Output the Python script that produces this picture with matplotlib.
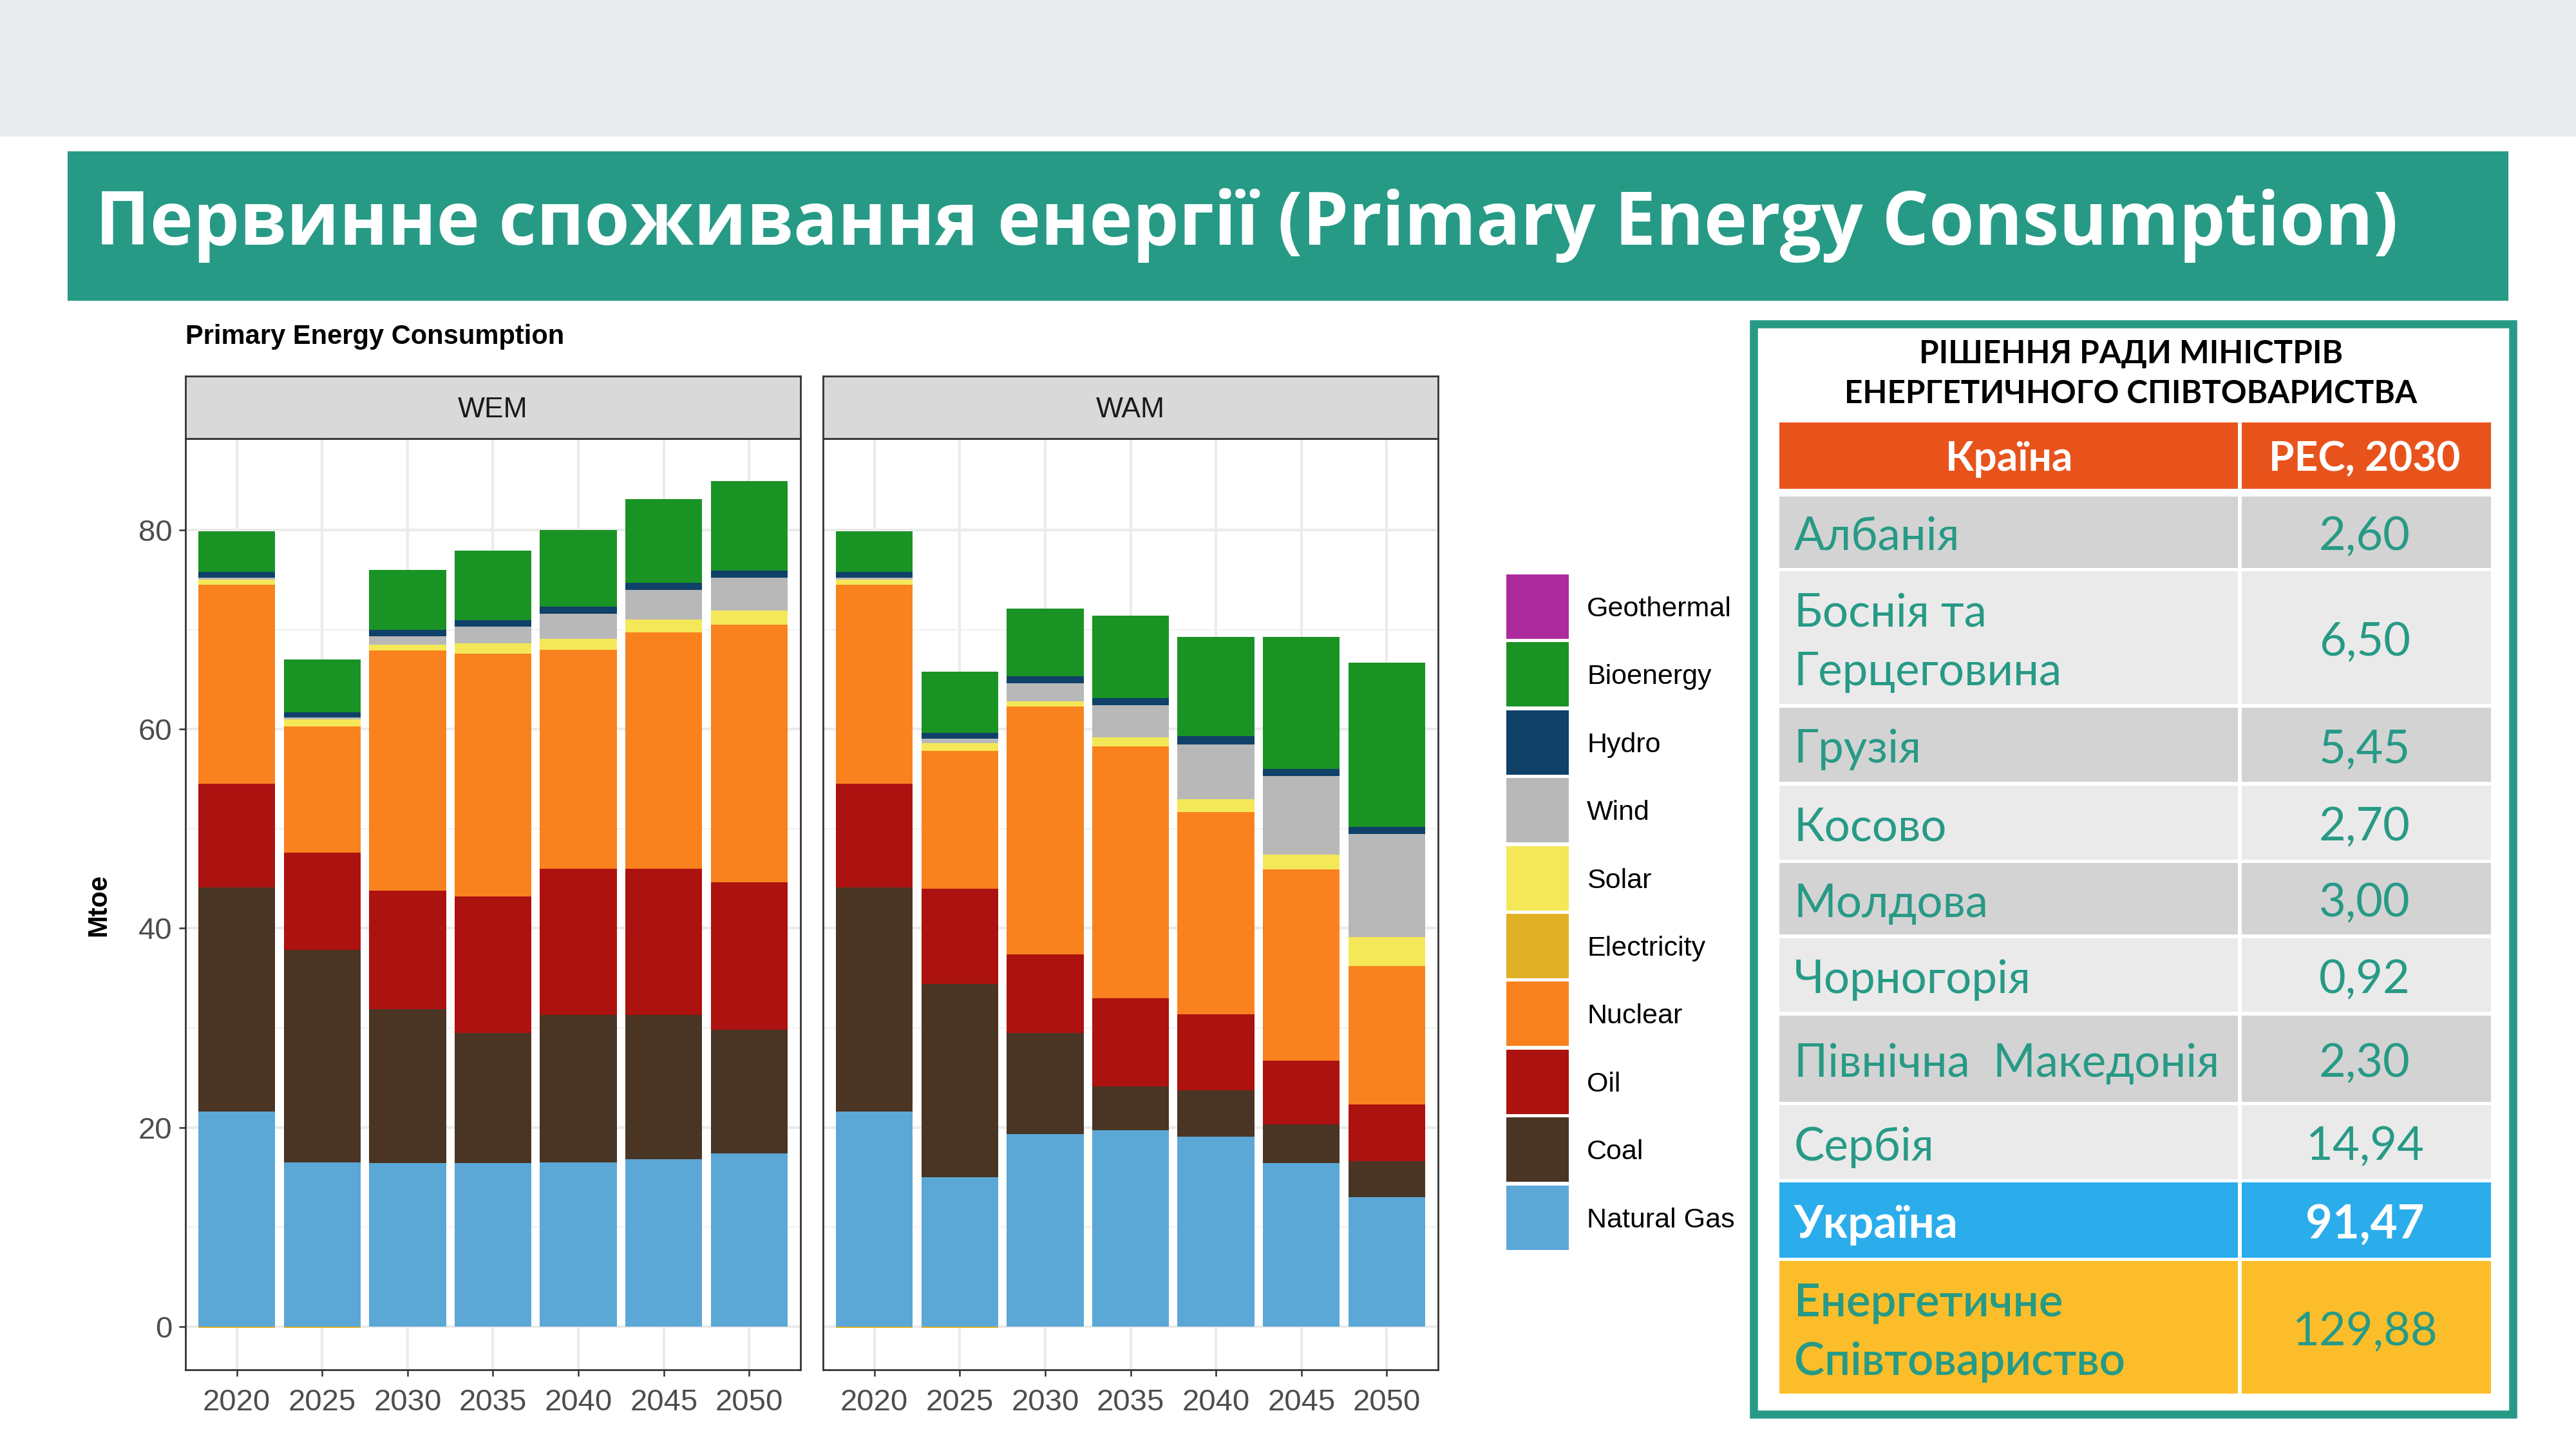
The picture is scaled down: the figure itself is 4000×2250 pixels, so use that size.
import matplotlib
matplotlib.use("Agg")
import matplotlib.pyplot as plt
from matplotlib.patches import Rectangle
import numpy as np

# ---- chart data (Mtoe) ----
years = ["2020", "2025", "2030", "2035", "2040", "2045", "2050"]
sources = ["Natural Gas", "Coal", "Oil", "Nuclear", "Electricity",
           "Solar", "Wind", "Hydro", "Bioenergy", "Geothermal"]
colors = {"Natural Gas": "#5BA8D7", "Coal": "#4A3524", "Oil": "#AC120F",
          "Nuclear": "#F9821F", "Electricity": "#E0B125", "Solar": "#F5E858",
          "Wind": "#B8B8B8", "Hydro": "#0F4169", "Bioenergy": "#1A9325",
          "Geothermal": "#AD2A9E"}

wem_gas = [21.6, 16.5, 16.4, 16.4, 16.5, 16.8, 17.4]
wem_coal = [22.5, 21.3, 15.5, 13.1, 14.8, 14.5, 12.4]
wem_oil = [10.4, 9.8, 11.9, 13.7, 14.7, 14.7, 14.8]
wem_nuclear = [20.0, 12.7, 24.1, 24.4, 22.0, 23.7, 25.9]
wem_electricity = [-0.15, -0.15, 0, 0, 0, 0, 0]
wem_solar = [0.5, 0.7, 0.6, 1.0, 1.1, 1.3, 1.45]
wem_wind = [0.2, 0.2, 0.85, 1.7, 2.5, 3.0, 3.3]
wem_hydro = [0.6, 0.5, 0.65, 0.65, 0.7, 0.7, 0.66]
wem_bio = [4.1, 5.3, 6.0, 7.0, 7.7, 8.4, 9.0]
wem_geo = [0, 0, 0, 0, 0, 0, 0]

wam_gas = [21.6, 15.0, 19.3, 19.7, 19.1, 16.4, 13.0]
wam_coal = [22.5, 19.4, 10.2, 4.4, 4.6, 3.9, 3.6]
wam_oil = [10.4, 9.6, 7.9, 8.9, 7.65, 6.4, 5.7]
wam_nuclear = [20.0, 13.8, 24.9, 25.3, 20.35, 19.2, 13.9]
wam_electricity = [-0.15, -0.15, 0, 0, 0, 0, 0]
wam_solar = [0.5, 0.8, 0.5, 0.9, 1.3, 1.5, 2.9]
wam_wind = [0.2, 0.45, 1.8, 3.2, 5.5, 7.9, 10.4]
wam_hydro = [0.6, 0.6, 0.7, 0.7, 0.8, 0.7, 0.7]
wam_bio = [4.1, 6.15, 6.8, 8.3, 10.0, 13.3, 16.5]
wam_geo = [0, 0, 0, 0, 0, 0, 0]

wem = [wem_gas, wem_coal, wem_oil, wem_nuclear, wem_electricity,
       wem_solar, wem_wind, wem_hydro, wem_bio, wem_geo]
wam = [wam_gas, wam_coal, wam_oil, wam_nuclear, wam_electricity,
       wam_solar, wam_wind, wam_hydro, wam_bio, wam_geo]

# ---- table data ----
countries = ["Албанія", "Боснія та\nГерцеговина", "Грузія", "Косово", "Молдова",
             "Чорногорія", "Північна  Македонія", "Сербія", "Україна",
             "Енергетичне\nСпівтовариство"]
pec_2030 = ["2,60", "6,50", "5,45", "2,70", "3,00", "0,92", "2,30", "14,94",
            "91,47", "129,88"]

TEAL = "#279A86"
W, H = 4000, 2250
fig = plt.figure(figsize=(20, 11.25), dpi=200)

# overlay in pixel coords for slide decoration, legend and table
ov = fig.add_axes([0, 0, 1, 1])
ov.set_xlim(0, W)
ov.set_ylim(H, 0)
ov.axis("off")

ov.add_patch(Rectangle((0, 0), W, 212, color="#E8ECEC", lw=0))
ov.add_patch(Rectangle((105, 235), 3790, 232, color=TEAL, lw=0))
ov.text(148, 380, "Первинне споживання енергії (Primary Energy Consumption)",
        color="white", fontsize=41, fontweight="bold", family="Open Sans",
        va="baseline", ha="left")

ov.text(288, 523, "Primary Energy Consumption", fontsize=15, fontweight="bold",
        family="Liberation Sans", va="center", ha="left")
ov.text(153, 1405, "Mtoe", fontsize=15, fontweight="bold", family="Liberation Sans",
        rotation=90, va="center", ha="center")

# legend
legend_order = sources[::-1]
for i, s in enumerate(legend_order):
    y0 = 890 + i * 105.4
    ov.add_patch(Rectangle((2339, y0 + 2), 97, 100, color=colors[s], lw=0))
    ov.text(2464, y0 + 56, s, fontsize=15.5, family="Liberation Sans",
            va="center", ha="left")

# table
ov.add_patch(Rectangle((2723, 503), 1179, 1693, fill=False, ec=TEAL, lw=4.5))
ov.text(3309, 550, "РІШЕННЯ РАДИ МІНІСТРІВ", fontsize=17.8, fontweight="bold",
        family="Lato", va="center", ha="center")
ov.text(3309, 612, "ЕНЕРГЕТИЧНОГО СПІВТОВАРИСТВА", fontsize=17.8, fontweight="bold",
        family="Lato", va="center", ha="center")

x_left, x_split, x_right = 2763, 3478, 3868
ov.add_patch(Rectangle((x_left, 656), x_split - x_left - 3, 103, color="#E8531C", lw=0))
ov.add_patch(Rectangle((x_split + 3, 656), x_right - x_split - 3, 103, color="#E8531C", lw=0))
ov.text((x_left + x_split) / 2, 731, "Країна", color="white", fontsize=23,
        fontweight="bold", family="Lato", va="baseline", ha="center")
ov.text(3672, 731, "PEC, 2030", color="white", fontsize=23,
        fontweight="bold", family="Lato", va="baseline", ha="center")

row_top = [771, 887, 1099, 1220, 1340, 1457, 1577, 1716, 1836, 1958]
row_bot = [882, 1093, 1214, 1335, 1451, 1571, 1711, 1831, 1953, 2164]
for i, (name, val) in enumerate(zip(countries, pec_2030)):
    if i == 8:
        bg, fg, wt = "#2BADEB", "white", "bold"
    elif i == 9:
        bg, fg, wt = "#FBBE2A", TEAL, "semibold"
    else:
        bg = "#D3D3D3" if i % 2 == 0 else "#EAEAEA"
        fg, wt = TEAL, "normal"
    t, b = row_top[i], row_bot[i]
    ov.add_patch(Rectangle((x_left, t), x_split - x_left - 3, b - t, color=bg, lw=0))
    ov.add_patch(Rectangle((x_split + 3, t), x_right - x_split - 3, b - t, color=bg, lw=0))
    c = (t + b) / 2
    lines = name.split("\n")
    if len(lines) == 1:
        ov.text(2786, c + 28, name, color=fg, fontsize=25.5, fontweight=wt,
                family="Lato", va="baseline", ha="left")
    else:
        ov.text(2786, c - 17, lines[0], color=fg, fontsize=25.5, fontweight=wt,
                family="Lato", va="baseline", ha="left")
        ov.text(2786, c + 74, lines[1], color=fg, fontsize=25.5, fontweight=wt,
                family="Lato", va="baseline", ha="left")
    ov.text(3672, c + 28, val, color=fg, fontsize=26,
            fontweight="bold" if i == 8 else "normal",
            family="Lato", va="baseline", ha="center")


def draw_panel(left, data, label, show_y):
    ax = fig.add_axes([left / W, 123 / H, 955 / W, 1446 / H])
    x = np.arange(len(years))
    pos = np.zeros(len(years))
    neg = np.zeros(len(years))
    for s, vals in zip(sources, data):
        v = np.array(vals, dtype=float)
        base = np.where(v >= 0, pos, neg)
        ax.bar(x, v, bottom=base, width=0.9, color=colors[s], lw=0, zorder=3)
        pos = pos + np.where(v >= 0, v, 0)
        neg = neg + np.where(v < 0, v, 0)
    ax.set_xlim(-0.6, 6.6)
    ax.set_ylim(-4.35, 89.2)
    ax.set_xticks(x)
    ax.set_xticklabels(years)
    ax.set_yticks([0, 20, 40, 60, 80])
    ax.set_yticks([10, 30, 50, 70], minor=True)
    ax.grid(True, which="major", color="#EBEBEB", lw=1.5, zorder=0)
    ax.grid(True, which="minor", axis="y", color="#F2F2F2", lw=0.8, zorder=0)
    ax.set_axisbelow(True)
    ax.tick_params(axis="both", which="major", length=3.5, width=0.9,
                   color="#333333", labelsize=17, labelcolor="#4D4D4D", pad=4)
    ax.tick_params(axis="x", which="major", pad=7)
    ax.tick_params(axis="both", which="minor", length=0)
    if not show_y:
        ax.tick_params(axis="y", which="major", length=0, labelleft=False)
    for sp in ax.spines.values():
        sp.set_color("#333333")
        sp.set_linewidth(1.0)
    for lab in ax.get_xticklabels() + ax.get_yticklabels():
        lab.set_family("Liberation Sans")

    st = fig.add_axes([left / W, (H - 681) / H, 955 / W, 97 / H])
    st.set_xticks([])
    st.set_yticks([])
    st.set_facecolor("#D9D9D9")
    for sp in st.spines.values():
        sp.set_color("#333333")
        sp.set_linewidth(1.0)
    st.text(0.5, 0.46, label, transform=st.transAxes, fontsize=16,
            family="Liberation Sans", color="#1A1A1A", ha="center", va="center")
    return ax


draw_panel(288, wem, "WEM", True)
draw_panel(1278, wam, "WAM", False)

fig.savefig("out.png", dpi=200)
